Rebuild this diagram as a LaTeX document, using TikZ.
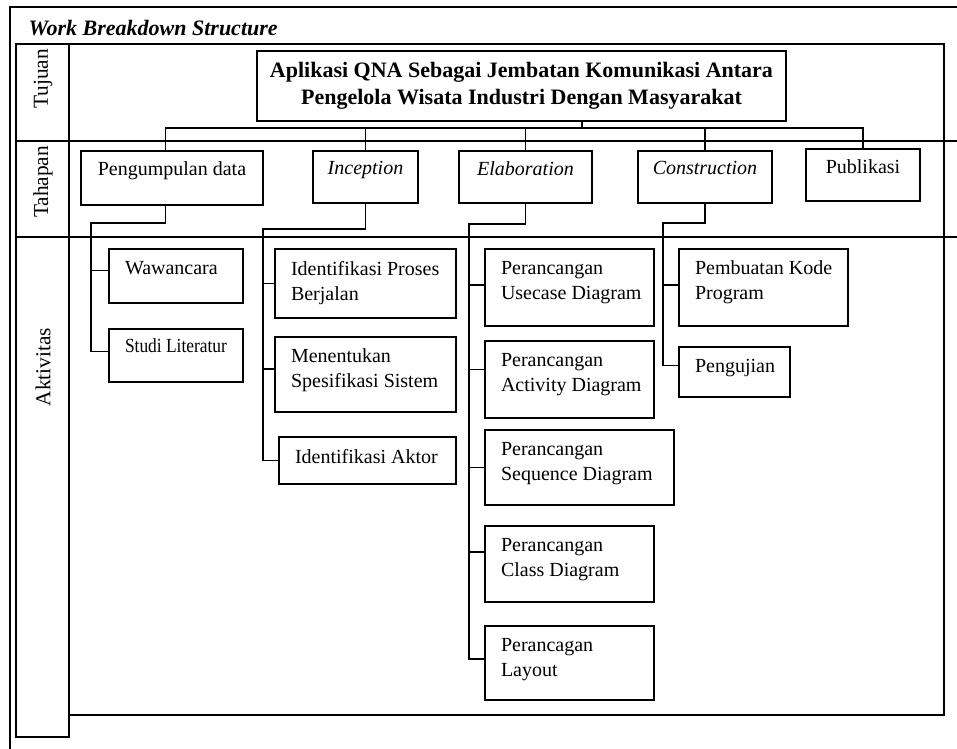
\documentclass[tikz,border=0pt]{standalone}
\usepackage{fontspec}
\setmainfont{Liberation Serif}
\usetikzlibrary{fit}
\begin{document}
\begin{tikzpicture}[x=0.75pt,y=-0.75pt,line width=1.1pt,
  kotak/.style={draw,rectangle,inner sep=0pt},
  isi/.style={anchor=north west,inner sep=0pt,align=left,xshift=12pt,yshift=-9pt,font=\fontsize{15}{18.75}\selectfont},
  tahap/.style={anchor=north,inner sep=0pt,yshift=-8pt,font=\fontsize{15}{18.75}\selectfont},
  baris/.style={rotate=90,inner sep=0pt,font=\fontsize{16}{19}\selectfont}]
\useasboundingbox (0,0) rectangle (957,749);
% kerangka tabel
\draw (10,749) -- (10,7) -- (957,7);
\draw (16,44) rectangle (69,737);
\draw (69,44) -- (944,44) -- (944,715) -- (69,715);
\draw (16,141) -- (957,141);
\draw (16,237) -- (957,237);
\node[anchor=base west,inner sep=0pt,font=\fontsize{16.5}{18}\selectfont\bfseries\itshape] (judul) at (28,36) {Work Breakdown Structure};
\node[baris] (tujuan) at (43,79) {Tujuan};
\node[baris] (tahapan) at (43,182) {Tahapan};
\node[baris] (aktivitas) at (43,367) {Aktivitas};
\node[kotak,align=center,minimum width=396.75pt,minimum height=52.5pt,font=\fontsize{16.5}{20.25}\selectfont\bfseries] (aplikasi) at (521.5,86) {Aplikasi QNA Sebagai Jembatan Komunikasi Antara\\Pengelola Wisata Industri Dengan Masyarakat};
% tahapan
\node[kotak,fit={(81,151) (263,205)},label={[tahap]north:Pengumpulan data}] (pd) {};
\node[kotak,fit={(313,151) (418,203)},label={[tahap]north:\textit{Inception}}] (inc) {};
\node[kotak,fit={(459,151) (592,203)},label={[tahap]north:\textit{Elaboration}}] (ela) {};
\node[kotak,fit={(638,151) (772,203)},label={[tahap]north:\textit{Construction}}] (con) {};
\node[kotak,fit={(806,149) (920,201)},label={[tahap]north:Publikasi}] (pub) {};
% aktivitas
\node[kotak,fit={(109,249) (243,303)},label={[isi]north west:Wawancara}] (ww) {};
\node[kotak,fit={(109,329) (243,382)},label={[isi,yshift=1.5pt,font=\fontsize{15}{18.75}\selectfont\addfontfeature{FakeStretch=0.87}]north west:Studi Literatur}] (sl) {};
\node[kotak,fit={(275,249) (456,318)},label={[isi]north west:{Identifikasi Proses\\Berjalan}}] (ipb) {};
\node[kotak,fit={(275,337) (456,412)},label={[isi]north west:{Menentukan\\Spesifikasi Sistem}}] (mss) {};
\node[kotak,fit={(279,437) (456,484)},label={[isi]north west:Identifikasi Aktor}] (ia) {};
\node[kotak,fit={(485,249) (654,326)},label={[isi]north west:{Perancangan\\Usecase Diagram}}] (pud) {};
\node[kotak,fit={(485,341) (654,418)},label={[isi]north west:{Perancangan\\Activity Diagram}}] (pad) {};
\node[kotak,fit={(485,430) (674,505)},label={[isi]north west:{Perancangan\\Sequence Diagram}}] (psd) {};
\node[kotak,fit={(485,526) (654,602)},label={[isi]north west:{Perancangan\\Class Diagram}}] (pcd) {};
\node[kotak,fit={(485,626) (654,700)},label={[isi]north west:{Perancagan\\Layout}}] (pl) {};
\node[kotak,fit={(679,249) (848,326)},label={[isi]north west:{Pembuatan Kode\\Program}}] (pkp) {};
\node[kotak,fit={(679,347) (790,397)},label={[isi]north west:Pengujian}] (uji) {};
% garis penghubung
\coordinate (bus) at (582,128);
\coordinate (pdjoint) at (91,223);
\coordinate (incjoint) at (263,229);
\coordinate (elajoint) at (469,224);
\coordinate (conjoint) at (663,223);
\draw (aplikasi.south -| bus) -- (bus);
\draw ([xshift=-5pt]pd.north) |- (bus) -| (pub.north);
\foreach \t in {inc,ela,con}
  \draw (\t.north) -- (\t.north |- bus);
\draw ([xshift=-5pt]pd.south) |- (pdjoint) |- ([yshift=3pt]sl.west);
\draw ([yshift=4pt]ww.west -| pdjoint) -- ([yshift=4pt]ww.west);
\draw (inc.south) |- (incjoint) |- (ia.west);
\foreach \a/\s in {ipb/0pt,mss/4pt}
  \draw ([yshift=\s]\a.west -| incjoint) -- ([yshift=\s]\a.west);
\draw (ela.south) |- (elajoint) |- ([yshift=3pt]pl.west);
\foreach \a/\s in {pud/2pt,pad/7.5pt,psd/0pt,pcd/9pt}
  \draw ([yshift=\s]\a.west -| elajoint) -- ([yshift=\s]\a.west);
\draw (con.south) |- (conjoint) |- ([yshift=5pt]uji.west);
\draw ([yshift=2pt]pkp.west -| conjoint) -- ([yshift=2pt]pkp.west);
\end{tikzpicture}
\end{document}
